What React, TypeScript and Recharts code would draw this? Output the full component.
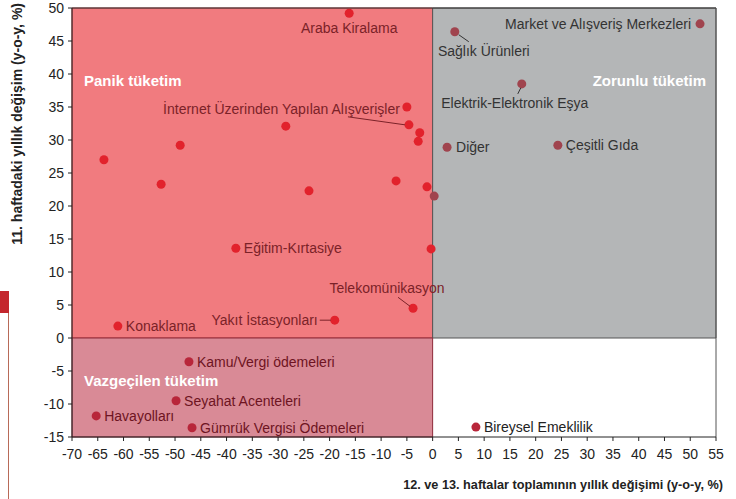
import React from "react";
import {
  ScatterChart,
  Scatter,
  XAxis,
  YAxis,
  ReferenceArea,
  ReferenceLine
} from "recharts";

// x: 12. ve 13. haftalar toplamının yıllık değişimi, y: 11. haftadaki yıllık değişim
const panicPoints = [
  { name: "Araba Kiralama", x: -16.2, y: 49.2 },
  { name: "", x: -5.0, y: 35.0 },
  { name: "İnternet Üzerinden Yapılan Alışverişler", x: -4.6, y: 32.3 },
  { name: "", x: -2.5, y: 31.1 },
  { name: "", x: -2.8, y: 29.8 },
  { name: "", x: -28.5, y: 32.1 },
  { name: "", x: -63.8, y: 27.0 },
  { name: "", x: -49.0, y: 29.2 },
  { name: "", x: -52.7, y: 23.3 },
  { name: "", x: -24.0, y: 22.3 },
  { name: "", x: -7.1, y: 23.8 },
  { name: "", x: -1.1, y: 22.9 },
  { name: "", x: -0.3, y: 13.5 },
  { name: "Eğitim-Kırtasiye", x: -38.2, y: 13.6 },
  { name: "Telekomünikasyon", x: -3.8, y: 4.5 },
  { name: "Yakıt İstasyonları", x: -19.0, y: 2.7 },
  { name: "Konaklama", x: -61.1, y: 1.8 }
];

const mandatoryPoints = [
  { name: "Market ve Alışveriş Merkezleri", x: 51.9, y: 47.6 },
  { name: "Sağlık Ürünleri", x: 4.3, y: 46.4 },
  { name: "Elektrik-Elektronik Eşya", x: 17.3, y: 38.5 },
  { name: "Diğer", x: 2.8, y: 28.9 },
  { name: "Çeşitli Gıda", x: 24.3, y: 29.2 },
  { name: "", x: 0.3, y: 21.5 }
];

const abandonedPoints = [
  { name: "Kamu/Vergi ödemeleri", x: -47.3, y: -3.6 },
  { name: "Seyahat Acenteleri", x: -49.8, y: -9.5 },
  { name: "Havayolları", x: -65.3, y: -11.8 },
  { name: "Gümrük Vergisi Ödemeleri", x: -46.7, y: -13.6 }
];

const otherPoints = [{ name: "Bireysel Emeklilik", x: 8.4, y: -13.5 }];

const xTicks = [-70, -65, -60, -55, -50, -45, -40, -35, -30, -25, -20, -15, -10, -5, 0, 5, 10, 15, 20, 25, 30, 35, 40, 45, 50, 55];
const yTicks = [-15, -10, -5, 0, 5, 10, 15, 20, 25, 30, 35, 40, 45, 50];

const FONT = "'Liberation Sans', Arial, sans-serif";

// label placement relative to the dot
type LabelPos = { dx: number; dy: number; anchor: "start" | "middle" | "end"; line?: number[] };
const labelPos: Record<string, LabelPos> = {
  "Araba Kiralama": { dx: 0, dy: 15, anchor: "middle" },
  "İnternet Üzerinden Yapılan Alışverişler": { dx: -9, dy: -16, anchor: "end", line: [-61, -8, -4, 0] },
  "Eğitim-Kırtasiye": { dx: 8, dy: 0, anchor: "start" },
  "Telekomünikasyon": { dx: -26, dy: -20, anchor: "middle", line: [-15, -11, -3, -2] },
  "Yakıt İstasyonları": { dx: -17, dy: 0, anchor: "end", line: [-15, 0, -4, 0] },
  "Konaklama": { dx: 8, dy: 0, anchor: "start" },
  "Market ve Alışveriş Merkezleri": { dx: -9, dy: 0, anchor: "end" },
  "Sağlık Ürünleri": { dx: 29, dy: 19, anchor: "middle", line: [4, 3, 14, 10] },
  "Elektrik-Elektronik Eşya": { dx: -7, dy: 19, anchor: "middle", line: [-1, 4, -4, 10] },
  "Diğer": { dx: 9, dy: 0, anchor: "start" },
  "Çeşitli Gıda": { dx: 8, dy: 0, anchor: "start" },
  "Kamu/Vergi ödemeleri": { dx: 8, dy: 0, anchor: "start" },
  "Seyahat Acenteleri": { dx: 8, dy: 0, anchor: "start" },
  "Havayolları": { dx: 8, dy: 0, anchor: "start" },
  "Gümrük Vergisi Ödemeleri": { dx: 8, dy: 0, anchor: "start" },
  "Bireysel Emeklilik": { dx: 8, dy: 0, anchor: "start" }
};

const makeDot = (fill: string, textColor: string) => (props: any) => {
  const { cx, cy, payload } = props;
  const pos = payload && payload.name ? labelPos[payload.name] : undefined;
  return (
    <g>
      <circle cx={cx} cy={cy} r={4.5} fill={fill} />
      {pos && pos.line && (
        <line
          x1={cx + pos.line[0]}
          y1={cy + pos.line[1]}
          x2={cx + pos.line[2]}
          y2={cy + pos.line[3]}
          stroke={textColor}
          strokeWidth={1}
        />
      )}
      {pos && (
        <text
          x={cx + pos.dx}
          y={cy + pos.dy}
          textAnchor={pos.anchor}
          dominantBaseline="central"
          fontSize={14}
          fontFamily={FONT}
          fill={textColor}
        >
          {payload.name}
        </text>
      )}
    </g>
  );
};

const QuadLabel = ({ text, dx, dy, anchor, right }: any) => (props: any) => {
  const vb = props.viewBox || {};
  const x = right ? vb.x + vb.width - dx : vb.x + dx;
  return (
    <text
      x={x}
      y={vb.y + dy}
      textAnchor={anchor}
      dominantBaseline="central"
      fontSize={15}
      fontWeight="bold"
      fontFamily={FONT}
      fill="#ffffff"
    >
      {text}
    </text>
  );
};

const YTitle = (props: any) => {
  const vb = props.viewBox || {};
  const x = vb.x - 15;
  const y = vb.y - 5;
  return (
    <text
      x={x}
      y={y}
      transform={`rotate(-90, ${x}, ${y})`}
      textAnchor="end"
      dominantBaseline="central"
      fontSize={14}
      fontWeight="bold"
      fontFamily={FONT}
      fill="#222"
    >
      11. haftadaki yıllık değişim (y-o-y, %)
    </text>
  );
};

const XTitle = (props: any) => {
  const vb = props.viewBox || {};
  return (
    <text
      x={vb.x + vb.width + 7}
      y={vb.y + 48}
      textAnchor="end"
      dominantBaseline="central"
      fontSize={12.7}
      fontWeight="bold"
      fontFamily={FONT}
      fill="#222"
    >
      12. ve 13. haftalar toplamının yıllık değişimi (y-o-y, %)
    </text>
  );
};

export default function App() {
  return (
    <div style={{ position: "absolute", left: 0, top: 0, width: 736, height: 499, background: "#fff" }}>
      {/* page-crop remnants on the left edge */}
      <div style={{ position: "absolute", left: 0, top: 291, width: 9, height: 22, background: "#c4262d" }} />
      <div style={{ position: "absolute", left: 8, top: 313, width: 1, height: 186, background: "#b86a58" }} />
      <ScatterChart
        width={736}
        height={499}
        margin={{ top: 8, right: 20, bottom: 32, left: 32 }}
        style={{ fontFamily: FONT }}
      >
        <ReferenceArea
          x1={-70}
          x2={0}
          y1={0}
          y2={50}
          fill="#f17b7f"
          fillOpacity={1}
          stroke="#b23a40"
          label={{ content: QuadLabel({ text: "Panik tüketim", dx: 12, dy: 72, anchor: "start" }) }}
        />
        <ReferenceArea
          x1={0}
          x2={55}
          y1={0}
          y2={50}
          fill="#b4b6b7"
          fillOpacity={1}
          stroke="#555"
          label={{ content: QuadLabel({ text: "Zorunlu tüketim", dx: 10, dy: 72, anchor: "end", right: true }) }}
        />
        <ReferenceArea
          x1={-70}
          x2={0}
          y1={-15}
          y2={0}
          fill="#d98a96"
          fillOpacity={1}
          stroke="#8e2a3a"
          label={{ content: QuadLabel({ text: "Vazgeçilen tüketim", dx: 12, dy: 42, anchor: "start" }) }}
        />
        <ReferenceLine y={50} stroke="#333" />
        <ReferenceLine x={55} stroke="#555" />
        <XAxis
          type="number"
          dataKey="x"
          domain={[-70, 55]}
          ticks={xTicks}
          interval={0}
          allowDataOverflow
          height={30}
          tickSize={4}
          tickMargin={8}
          stroke="#222"
          tick={{ fill: "#222", fontSize: 14, fontFamily: FONT }}
          label={{ content: XTitle }}
        />
        <YAxis
          type="number"
          dataKey="y"
          domain={[-15, 50]}
          ticks={yTicks}
          interval={0}
          allowDataOverflow
          width={40}
          tickSize={4}
          tickMargin={4}
          stroke="#222"
          tick={{ fill: "#222", fontSize: 14, fontFamily: FONT }}
          label={{ content: YTitle }}
        />
        <Scatter data={panicPoints} shape={makeDot("#e2222c", "#7b2228")} isAnimationActive={false} />
        <Scatter data={mandatoryPoints} shape={makeDot("#a0444e", "#333333")} isAnimationActive={false} />
        <Scatter data={abandonedPoints} shape={makeDot("#b8263a", "#6e1422")} isAnimationActive={false} />
        <Scatter data={otherPoints} shape={makeDot("#b8263a", "#222")} isAnimationActive={false} />
      </ScatterChart>
    </div>
  );
}
